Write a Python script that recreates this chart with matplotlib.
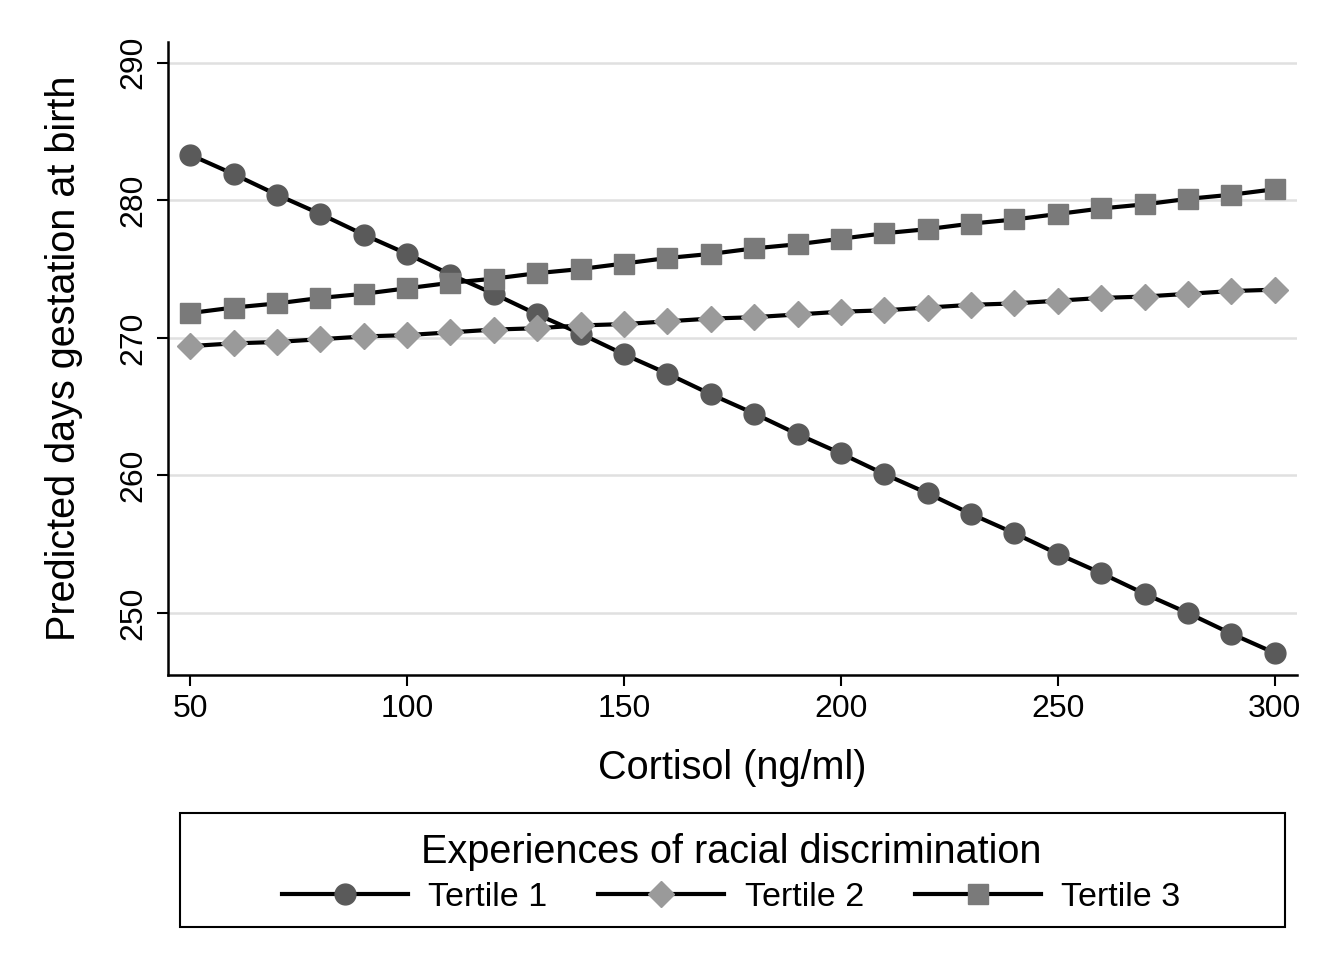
import matplotlib.pyplot as plt
from matplotlib.patches import Rectangle

plt.rcParams['font.family'] = ['Liberation Sans', 'DejaVu Sans']

cortisol = [50, 60, 70, 80, 90, 100, 110, 120, 130, 140, 150, 160, 170,
            180, 190, 200, 210, 220, 230, 240, 250, 260, 270, 280, 290, 300]

tertile1 = [283.3, 281.9, 280.4, 279.0, 277.5, 276.1, 274.6, 273.2, 271.7,
            270.3, 268.8, 267.4, 265.9, 264.5, 263.0, 261.6, 260.1, 258.7,
            257.2, 255.8, 254.3, 252.9, 251.4, 250.0, 248.5, 247.1]
tertile2 = [269.4, 269.6, 269.7, 269.9, 270.1, 270.2, 270.4, 270.6, 270.7,
            270.9, 271.0, 271.2, 271.4, 271.5, 271.7, 271.9, 272.0, 272.2,
            272.4, 272.5, 272.7, 272.9, 273.0, 273.2, 273.4, 273.5]
tertile3 = [271.8, 272.2, 272.5, 272.9, 273.2, 273.6, 274.0, 274.3, 274.7,
            275.0, 275.4, 275.8, 276.1, 276.5, 276.8, 277.2, 277.6, 277.9,
            278.3, 278.6, 279.0, 279.4, 279.7, 280.1, 280.4, 280.8]

labels = ['Tertile 1', 'Tertile 2', 'Tertile 3']
xticks = [50, 100, 150, 200, 250, 300]
yticks = [250, 260, 270, 280, 290]

fig = plt.figure(figsize=(13.37, 9.69), dpi=100)
ax = fig.add_axes([0.1257, 0.3034, 0.8443, 0.6533])

ax.plot(cortisol, tertile1, '-o', color='black', lw=3, ms=15,
        mfc='#5a5a5a', mec='#5a5a5a', label=labels[0], zorder=3)
ax.plot(cortisol, tertile2, '-D', color='black', lw=3, ms=13,
        mfc='#9a9a9a', mec='#9a9a9a', label=labels[1], zorder=3)
ax.plot(cortisol, tertile3, '-s', color='black', lw=3, ms=14,
        mfc='#7a7a7a', mec='#7a7a7a', label=labels[2], zorder=3)

ax.set_xlim(44.9, 305.1)
ax.set_ylim(245.5, 291.5)
ax.set_xticks(xticks)
ax.set_yticks(yticks)
ax.yaxis.grid(True, color='#e0e0e0', lw=1.8)
ax.set_axisbelow(True)

for s in ['top', 'right']:
    ax.spines[s].set_visible(False)
for s in ['left', 'bottom']:
    ax.spines[s].set_linewidth(1.8)

ax.tick_params(direction='out', length=8, width=1.5, labelsize=23, pad=6)
for lab in ax.get_yticklabels():
    lab.set_rotation(90)
    lab.set_va('center')

ax.set_xlabel('Cortisol (ng/ml)', fontsize=28.5, labelpad=18)
ax.set_ylabel('Predicted days gestation at birth', fontsize=28.5, labelpad=26)

# legend box drawn separately so its width can match the plot
fig.add_artist(Rectangle((0.1346, 0.0433), 0.8264, 0.118, transform=fig.transFigure,
                         fill=False, edgecolor='black', lw=1.5))
leg = fig.legend(loc='center', bbox_to_anchor=(0.547, 0.099), ncol=3, fontsize=24.5,
                 title='Experiences of racial discrimination', title_fontsize=28.5,
                 frameon=False, handlelength=3.7, handletextpad=0.6,
                 columnspacing=1.5, labelspacing=0.3, borderpad=0.2)

fig.savefig('out.png', dpi=100, facecolor='white')
